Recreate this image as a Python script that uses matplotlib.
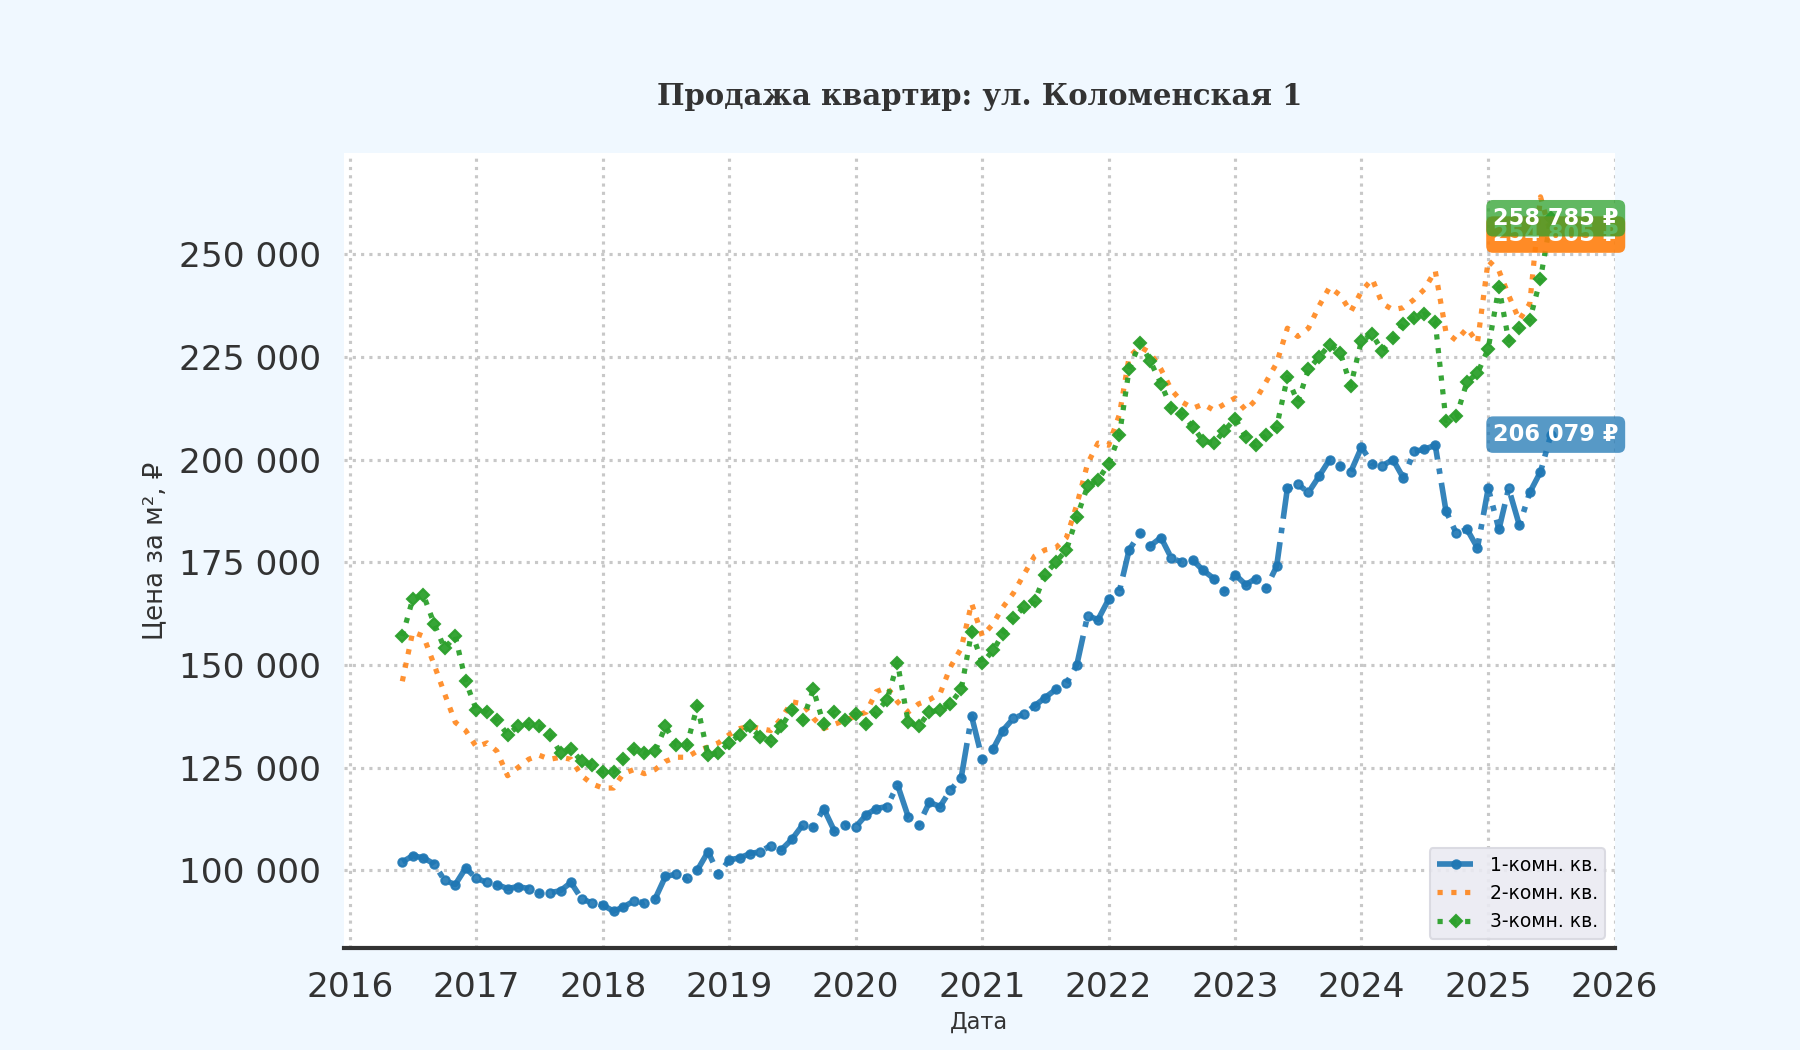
import matplotlib
matplotlib.use('Agg')
import matplotlib.pyplot as plt
import matplotlib.dates as mdates
from matplotlib.ticker import FuncFormatter
import pandas as pd

# данные: помесячно, июнь 2016 - июль 2025
dates = pd.date_range('2016-06-01', periods=110, freq='MS')

room1 = [102000, 103500, 103000, 101500, 97500, 96500, 100500,
         98000, 97000, 96500, 95500, 96000, 95500, 94500, 94500, 95000, 97000, 93000, 92000,
         91500, 90000, 91000, 92500, 92000, 93000, 98500, 99000, 98000, 100000, 104500, 99000,
         102500, 103000, 104000, 104500, 106000, 105000, 107500, 111000, 110500, 115000, 109500, 111000,
         110500, 113500, 115000, 115500, 120800, 113000, 111000, 116500, 115500, 119500, 122500, 137500,
         127000, 129500, 134000, 137000, 138000, 140000, 142000, 144000, 145500, 150000, 162000, 161000,
         166000, 168000, 178000, 182000, 179000, 181000, 176000, 175000, 175500, 173000, 171000, 168000,
         172000, 169500, 171000, 168800, 174000, 193000, 194000, 192000, 196000, 200000, 198500, 197000,
         203000, 199000, 198500, 200000, 195500, 202000, 202500, 203500, 187500, 182000, 183000, 178500,
         193000, 183000, 193000, 184000, 192000, 197000, 206079]

room2 = [146000, 158000, 157000, 150000, 143000, 136000, 134000,
         130000, 131000, 129000, 123000, 125000, 127000, 128000, 127000, 127500, 127000, 123000, 121000,
         120000, 120000, 123500, 124500, 123500, 124500, 126500, 127500, 127500, 129000, 130000, 131000,
         133000, 134500, 135000, 134500, 134000, 137000, 141000, 140500, 137000, 134500, 135500, 136500,
         137500, 138500, 143500, 144500, 141000, 138500, 140500, 141500, 143000, 149500, 154000, 165000,
         157000, 160000, 164000, 167500, 172000, 176500, 178000, 178500, 181000, 189000, 199000, 204000,
         203500, 211000, 225000, 227500, 226000, 222000, 217000, 214000, 212500, 213500, 212000, 213500,
         215000, 212000, 214500, 219000, 223500, 232000, 230000, 232000, 237500, 242000, 240000, 236000,
         241000, 244000, 238000, 236500, 237000, 239000, 241500, 246000, 231000, 229000, 232000, 228500,
         248500, 246000, 240000, 234000, 238000, 264000, 254805]

room3 = [157000, 166000, 167000, 160000, 154000, 157000, 146000,
         139000, 138500, 136500, 133000, 135000, 135500, 135000, 133000, 128500, 129500, 126500, 125500,
         124000, 124000, 127000, 129500, 128500, 129000, 135000, 130500, 130500, 140000, 128000, 128500,
         131000, 133000, 135000, 132500, 131500, 135000, 139000, 136500, 144000, 135500, 138500, 136500,
         138000, 135500, 138500, 141500, 150500, 136000, 135000, 138500, 139000, 140500, 144000, 158000,
         150500, 153500, 157500, 161500, 164000, 165500, 172000, 175000, 178000, 186000, 193500, 195000,
         199000, 206000, 222000, 228500, 224000, 218500, 212500, 211000, 208000, 204500, 204000, 207000,
         210000, 205500, 203500, 206000, 208000, 220000, 214000, 222000, 225000, 228000, 226000, 218000,
         229000, 230500, 226500, 229500, 233000, 234500, 235500, 233500, 209500, 210500, 219000, 221000,
         227000, 242000, 229000, 232000, 234000, 244000, 258785]

labels = ['1-комн. кв.', '2-комн. кв.', '3-комн. кв.']
colors = ['#1f77b4', '#ff7f0e', '#2ca02c']

fig = plt.figure(figsize=(12, 7), dpi=150, facecolor='#f0f8ff')
ax = fig.add_axes([0.191, 0.097, 0.706, 0.757])
ax.set_facecolor('white')

# линии
ax.plot(dates, room1, linestyle='-.', marker='o', markersize=4, linewidth=2.7,
        color=colors[0], alpha=0.9, label=labels[0])
ax.plot(dates, room2, linestyle=':', linewidth=2.5,
        color=colors[1], alpha=0.85, label=labels[1])
ax.plot(dates, room3, linestyle=':', marker='D', markersize=4, linewidth=2.5,
        color=colors[2], alpha=0.95, label=labels[2])

# подписи последних значений
for vals, c, a in zip([room1, room2, room3], colors, [0.75, 0.9, 0.75]):
    v = vals[-1]
    ax.text(dates[-1] + pd.Timedelta(days=14), v, '{:,} ₽'.format(v).replace(',', ' '),
            ha='center', va='center', color='white', fontweight='bold', fontsize=10.8,
            bbox=dict(boxstyle='round,pad=0.3', fc=c, ec='none', alpha=a))

ax.set_xlim(pd.Timestamp('2015-12-15'), pd.Timestamp('2026-01-01'))
ax.set_ylim(81000, 274600)
ax.xaxis.set_major_locator(mdates.YearLocator())
ax.xaxis.set_major_formatter(mdates.DateFormatter('%Y'))
ax.yaxis.set_major_locator(plt.MultipleLocator(25000))
ax.yaxis.set_major_formatter(FuncFormatter(lambda x, p: '{:,.0f}'.format(x).replace(',', ' ')))

ax.grid(True, linestyle=':', color='#c8c8c8', linewidth=1.5)
for s in ['top', 'right', 'left']:
    ax.spines[s].set_visible(False)
ax.spines['bottom'].set_color('#333333')
ax.spines['bottom'].set_linewidth(2)
ax.tick_params(axis='both', length=0, labelsize=16.5, labelcolor='#333333')
ax.tick_params(axis='y', pad=11)
ax.tick_params(axis='x', pad=11)

ax.set_title('Продажа квартир: ул. Коломенская 1', fontsize=14, fontweight='bold',
             family='DejaVu Serif', color='#333333', pad=23)
ax.set_ylabel('Цена за м², ₽', fontsize=12.5, color='#333333', labelpad=5)
ax.set_xlabel('Дата', fontsize=10.8, color='#333333', labelpad=3)

ax.legend(loc='lower right', fontsize=9, facecolor='#eaeaf2', edgecolor='#d8d8e0',
          framealpha=0.9)

fig.savefig('out.png', dpi=150, facecolor=fig.get_facecolor())
